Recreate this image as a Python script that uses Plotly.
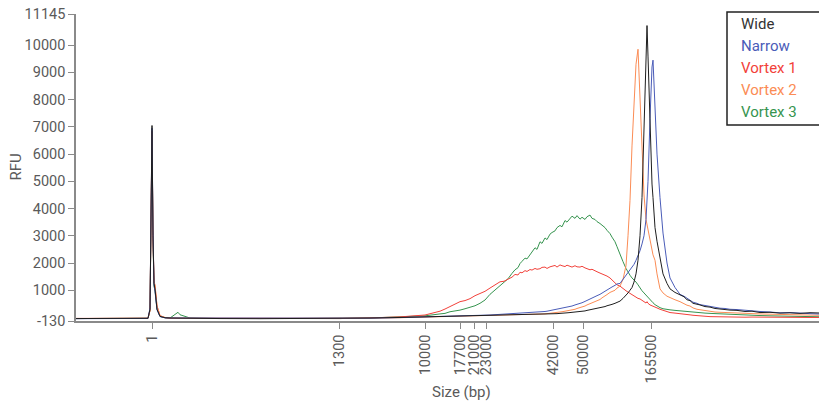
import plotly.graph_objects as go

# Migration time (s) of each sample point
migration_time_s = [
    # early region (lower marker)
    0.0, 2.4, 5.4, 7.2, 7.4, 7.5, 7.6, 7.7, 7.8, 7.9, 8.1, 8.4, 8.9, 9.4, 10.0,
    10.2, 10.4, 10.7, 11.4, 14.4, 18.4, 22.4, 26.4, 29.4, 32.4,
    # broad smear region
    34.9, 36.4, 36.9, 37.4, 37.9, 38.4, 38.9, 39.4, 39.9, 40.4,
    40.9, 41.4, 41.9, 42.4, 42.8, 43.2, 43.6, 43.9, 44.2, 44.4,
    44.6, 44.9, 45.1, 45.4, 45.6, 45.9, 46.1, 46.4, 46.6, 46.9,
    47.1, 47.4, 47.6, 47.9, 48.1, 48.4, 48.6, 48.9, 49.1, 49.4,
    49.6, 49.9, 50.1, 50.4, 50.6, 50.9, 51.1, 51.4, 51.6, 51.9,
    52.1, 52.4, 52.6, 52.9, 53.1, 53.4, 53.6, 53.9, 54.1, 54.4,
    # main peak region
    54.7, 55.0, 55.2, 55.4, 55.6, 55.8, 56.0, 56.2, 56.4, 56.6, 56.8, 57.0,
    57.1, 57.2, 57.4, 57.5, 57.6, 57.7, 57.9, 58.1, 58.4, 58.7, 59.1, 59.4, 59.9,
    # tail
    60.4, 60.8, 61.1, 61.4, 61.7, 62.1, 62.4, 62.9, 63.4, 63.9, 64.4, 64.9,
    65.4, 66.1, 66.9, 67.6, 68.4, 69.4, 70.4, 71.4, 72.4, 73.4, 74.3,
]

wide = [
    -40, -42, -38, -30, 300, 3600, 7050, 3000, 1250, 1050, 300, 40, -10, -20, -25,
    -25, -25, -30, -35, -40, -45, -45, -40, -20, 0,
    20, 30, 35, 40, 40, 50, 45, 55, 60, 60,
    65, 70, 75, 80, 85, 90, 90, 95, 100, 100,
    100, 105, 110, 110, 110, 115, 110, 100, 105, 110,
    115, 120, 125, 130, 140, 150, 150, 160, 170, 180,
    185, 200, 200, 210, 230, 240, 260, 280, 300, 320,
    340, 360, 380, 400, 430, 450, 480, 520, 560, 600,
    700, 800, 900, 1000, 1100, 1300, 1600, 2100, 3000, 4400, 6800, 9300,
    10720, 9600, 7000, 5800, 4900, 4400, 3300, 2800, 2200, 1600, 1250, 1050, 920,
    820, 760, 650, 620, 520, 500, 460, 400, 380, 330, 320, 290,
    270, 260, 220, 230, 180, 190, 160, 170, 150, 175, 165,
]

narrow = [
    -45, -40, -42, -35, 350, 3800, 6950, 3200, 1200, 950, 280, 30, -15, -20, -20,
    -25, -22, -28, -32, -40, -45, -45, -42, -25, -5,
    15, 30, 25, 40, 45, 50, 55, 60, 65, 70,
    85, 90, 100, 110, 120, 130, 140, 135, 150, 150,
    155, 160, 170, 170, 180, 185, 190, 200, 210, 220,
    230, 250, 260, 280, 300, 320, 340, 360, 380, 400,
    420, 460, 480, 520, 540, 590, 620, 680, 700, 760,
    800, 850, 900, 960, 1000, 1080, 1120, 1180, 1230, 1250,
    1400, 1550, 1650, 1750, 1850, 1950, 2100, 2250, 2450, 2700, 3000, 3600,
    4200, 5000, 7300, 8400, 9200, 9450, 7700, 6000, 4400, 3100, 2000, 1450, 1100,
    850, 780, 700, 640, 560, 520, 470, 440, 400, 380, 340, 330,
    300, 290, 260, 240, 220, 200, 170, 180, 150, 140, 127,
]

vortex_1 = [
    -35, -38, -40, -30, 250, 3200, 6800, 2900, 1300, 1150, 420, 60, -5, -30, -30,
    -28, -30, -35, -38, -42, -45, -45, -40, -15, 20,
    90, 230, 310, 400, 470, 580, 620, 690, 800, 870,
    960, 1080, 1180, 1310, 1330, 1420, 1480, 1580, 1560, 1660,
    1640, 1720, 1690, 1760, 1740, 1800, 1770, 1790, 1840, 1850,
    1800, 1860, 1890, 1910, 1850, 1930, 1900, 1870, 1920, 1880,
    1850, 1900, 1860, 1850, 1880, 1820, 1800, 1750, 1770, 1700,
    1680, 1630, 1600, 1550, 1520, 1450, 1380, 1250, 1200, 1150,
    1050, 980, 930, 880, 840, 790, 750, 700, 680, 620, 560, 530,
    580, 520, 460, 440, 420, 410, 380, 350, 300, 260, 210, 180, 160,
    130, 120, 100, 95, 80, 60, 50, 45, 30, 25, 20, 20,
    15, 10, 10, 15, 10, 5, 5, 0, 5, 0, 0,
]

vortex_2 = [
    -40, -35, -38, -30, 280, 3300, 6850, 3000, 1320, 1200, 430, 70, 0, -25, -25,
    -25, -28, -30, -35, -40, -45, -45, -40, -25, -10,
    10, 20, 25, 30, 35, 40, 40, 45, 50, 55,
    60, 70, 75, 80, 85, 90, 90, 95, 100, 100,
    105, 105, 110, 110, 115, 115, 115, 120, 125, 130,
    140, 150, 160, 170, 185, 200, 210, 230, 240, 260,
    280, 300, 330, 360, 390, 420, 460, 500, 540, 580,
    620, 660, 720, 780, 840, 920, 960, 1000, 1080, 1150,
    1400, 1900, 3000, 4300, 6300, 8000, 9300, 9850, 8100, 6100, 4500, 3600,
    3400, 3150, 2800, 2650, 2500, 2300, 2100, 1600, 1050, 900, 780, 720, 650,
    580, 500, 450, 420, 350, 300, 280, 240, 210, 200, 190, 180,
    170, 160, 150, 140, 130, 120, 110, 105, 100, 90, 80,
]

vortex_3 = [
    -40, -42, -40, -30, 250, 3000, 6700, 2800, 1150, 1000, 320, 40, -10, -20, 120,
    190, 100, 70, -20, -38, -45, -45, -40, -20, 10,
    60, 130, 150, 210, 230, 270, 320, 380, 430, 520,
    640, 850, 1000, 1150, 1300, 1420, 1620, 1750, 1830, 1980,
    2060, 2180, 2150, 2300, 2420, 2560, 2500, 2780, 2720, 2920,
    2860, 3060, 3120, 3180, 3300, 3380, 3330, 3560, 3500, 3640,
    3720, 3640, 3740, 3610, 3680, 3600, 3700, 3760, 3640, 3600,
    3520, 3450, 3400, 3300, 3200, 3080, 2950, 2780, 2600, 2300,
    2050, 1800, 1650, 1550, 1450, 1380, 1300, 1200, 1080, 980, 900, 820,
    780, 740, 620, 580, 570, 540, 470, 420, 360, 320, 290, 280, 260,
    240, 230, 220, 200, 190, 185, 170, 160, 150, 140, 130, 120,
    110, 100, 90, 80, 70, 60, 50, 45, 40, 30, 25,
]

series_names = ["Wide", "Narrow", "Vortex 1", "Vortex 2", "Vortex 3"]
series_colors = ["#1e1e1e", "#4a5cb8", "#f2413a", "#fb8c55", "#36944f"]
series_values = [wide, narrow, vortex_1, vortex_2, vortex_3]

# Ladder sizes (bp) and their migration times
ladder_times = [7.6, 26.3, 34.9, 38.4, 39.8, 41.0, 47.7, 50.7, 57.5]
ladder_labels = ["1", "1300", "10000", "17700", "21000", "23000", "42000", "50000", "165500"]

y_ticks = [-130, 1000, 2000, 3000, 4000, 5000, 6000, 7000, 8000, 9000, 10000, 11145]
y_labels = [str(v) for v in y_ticks]

for s in series_values:
    assert len(s) == len(migration_time_s), (len(s), len(migration_time_s))

fig = go.Figure()
# draw Wide last so it is on top
for idx in [4, 2, 3, 1, 0]:
    fig.add_trace(go.Scatter(
        x=migration_time_s, y=series_values[idx], mode="lines",
        name=series_names[idx],
        line=dict(color=series_colors[idx], width=1),
        showlegend=False, hoverinfo="skip",
    ))

axis_gray = "#8a8a8a"
tick_font = dict(family="Roboto", size=14.5, color="#5a5a5a")

fig.update_layout(
    width=819, height=404,
    margin=dict(l=76, r=0, t=14, b=83),
    paper_bgcolor="white", plot_bgcolor="white",
    font=dict(family="Roboto", color="#5a5a5a"),
    xaxis=dict(
        range=[0, 74.3], tickmode="array", tickvals=ladder_times, ticktext=ladder_labels,
        tickangle=-90, ticks="outside", ticklen=6, tickcolor=axis_gray, tickwidth=1,
        showline=True, linecolor=axis_gray, linewidth=1.5,
        showgrid=False, zeroline=False, tickfont=tick_font,
    ),
    yaxis=dict(
        range=[-130, 11145], tickmode="array", tickvals=y_ticks, ticktext=y_labels,
        ticks="outside", ticklen=6, tickcolor=axis_gray, tickwidth=1,
        showline=True, linecolor=axis_gray, linewidth=1.5,
        showgrid=False, zeroline=False, tickfont=tick_font,
    ),
)

# Axis titles
fig.add_annotation(text="RFU", xref="paper", yref="paper",
                   x=(15 - 76) / 743, y=0.5, textangle=-90, showarrow=False,
                   xanchor="center", yanchor="middle",
                   font=dict(family="Roboto", size=15, color="#5a5a5a"))
fig.add_annotation(text="Size (bp)", xref="paper", yref="paper",
                   x=(461 - 76) / 743, y=-(392 - 321) / 307, showarrow=False,
                   xanchor="center", yanchor="middle",
                   font=dict(family="Roboto", size=15, color="#5a5a5a"))

# Legend box with coloured labels
fig.add_shape(type="rect", xref="paper", yref="paper",
              x0=(727 - 76) / 743, x1=(822 - 76) / 743,
              y0=(321 - 125) / 307, y1=(321 - 12) / 307,
              line=dict(color="#222222", width=1.5), fillcolor="white", layer="above")
legend_rows_y = [24, 46, 68, 90, 112]
for name, color, yy in zip(series_names, series_colors, legend_rows_y):
    fig.add_annotation(text=name, xref="paper", yref="paper",
                       x=(739 - 76) / 743, y=(321 - yy) / 307, showarrow=False,
                       xanchor="left", yanchor="middle",
                       font=dict(family="Roboto", size=15,
                                 color="#333333" if name == "Wide" else color))

fig.write_html("out.html")
